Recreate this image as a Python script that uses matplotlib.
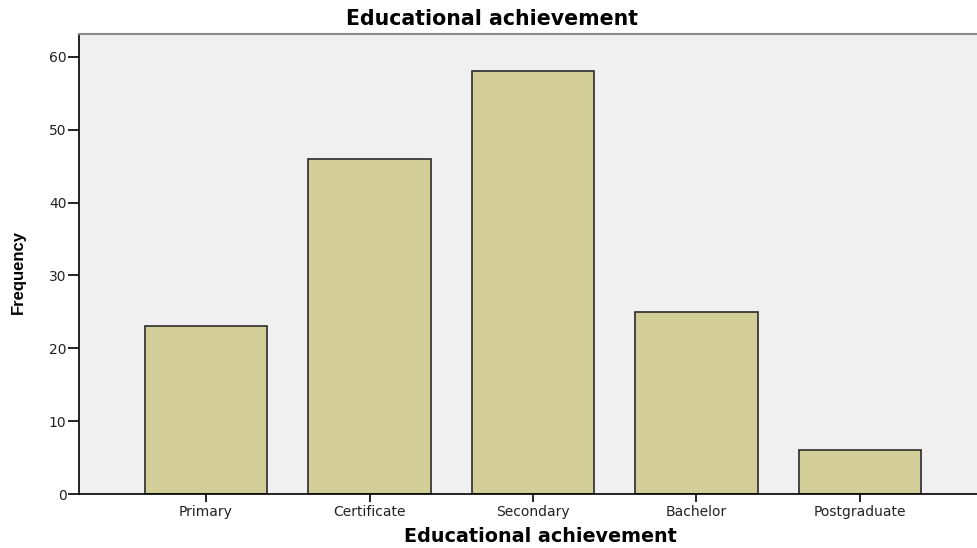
import matplotlib.pyplot as plt

# Data
categories = ['Primary', 'Certificate', 'Secondary', 'Bachelor', 'Postgraduate']
frequency = [23, 46, 58, 25, 6]
y_ticks = [0, 10, 20, 30, 40, 50, 60]

plt.rcParams['font.family'] = ['DejaVu Sans']

fig = plt.figure(figsize=(9.77, 5.48), dpi=100)
ax = fig.add_axes([79 / 977, 54 / 548, 1 - 79 / 977, 460.5 / 548])
ax.set_facecolor('#f0f0f0')

x = range(len(categories))
ax.bar(x, frequency, width=0.75, color='#d3ce97', edgecolor='#2b2b2b', linewidth=1.2, zorder=2)

ax.set_xlim(-0.777, 4.716)
ax.set_ylim(0, 63.2)
ax.set_xticks(list(x))
ax.set_xticklabels(categories, fontsize=10, color='#222222')
ax.set_yticks(y_ticks)
ax.tick_params(axis='y', labelsize=10, labelcolor='#222222', length=8, width=1.2, pad=1)
ax.tick_params(axis='x', length=6, width=1.2, pad=2)

ax.spines['right'].set_visible(False)
ax.spines['top'].set_color('#8a8a8a')
ax.spines['top'].set_linewidth(1.5)
ax.spines['left'].set_linewidth(1.2)
ax.spines['bottom'].set_linewidth(1.2)

fig.text(492 / 977, 1 - 19 / 548, 'Educational achievement', fontsize=14.8, fontweight='bold',
         ha='center', va='center')
fig.text(540 / 977, 1 - 536 / 548, 'Educational achievement', fontsize=13.8, fontweight='bold',
         ha='center', va='center')
fig.text(18 / 977, 1 - 272 / 548, 'Frequency', fontsize=12, fontweight='bold', rotation=90,
         family=['Liberation Sans Narrow', 'Liberation Sans'], ha='center', va='center')

fig.savefig('out.png', dpi=100)
